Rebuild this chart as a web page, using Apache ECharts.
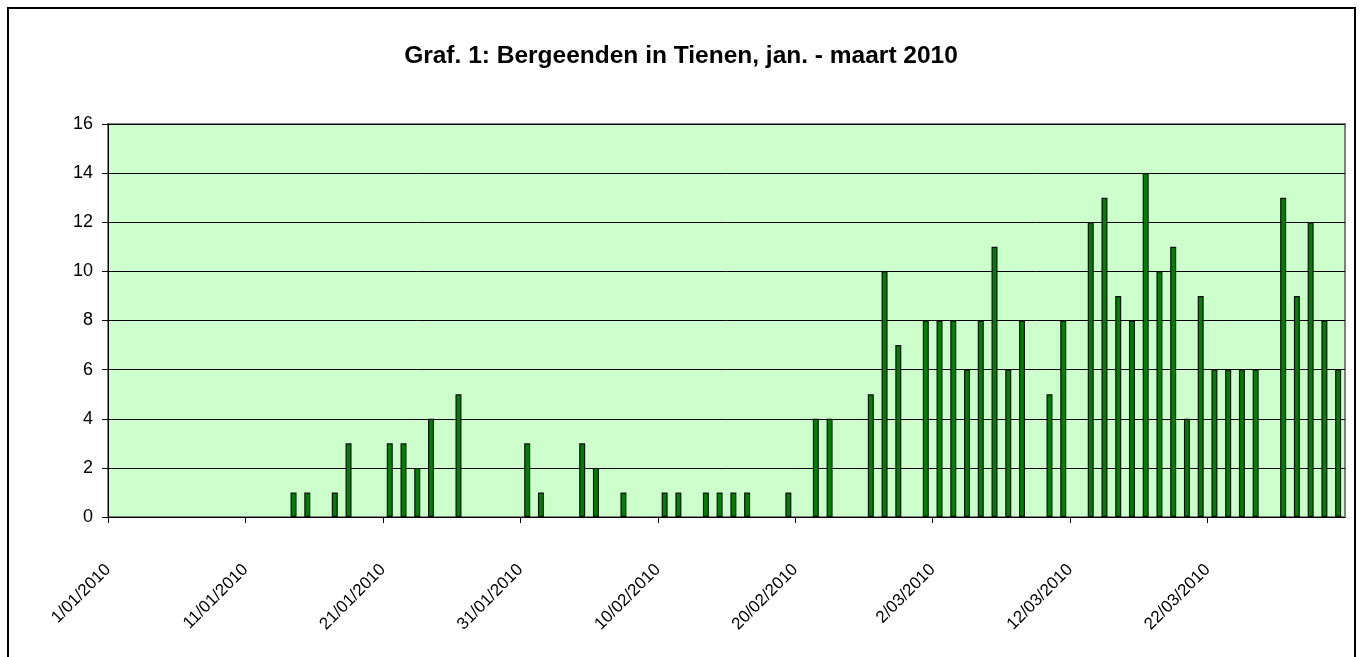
<!DOCTYPE html>
<html>
<head>
<meta charset="utf-8">
<title>Bergeenden in Tienen</title>
<script src="https://cdn.jsdelivr.net/npm/echarts@6/dist/echarts.min.js"></script>
<style>
  html, body { margin: 0; padding: 0; background: #fff; }
  #chart { width: 1362px; height: 657px; }
</style>
</head>
<body>
<div id="chart"></div>
<script>
// aantal bergeenden per dag (1 jan - 31 maart 2010)
const janCounts = [0, 0, 0, 0, 0, 0, 0, 0, 0, 0, 0, 0, 0, 1, 1, 0, 1, 3, 0, 0, 3, 3, 2, 4, 0, 5, 0, 0, 0, 0, 3]
const febCounts = [1, 0, 0, 3, 2, 0, 1, 0, 0, 1, 1, 0, 1, 1, 1, 1, 0, 0, 1, 0, 4, 4, 0, 0, 5, 10, 7, 0]
const marCounts = [8, 8, 8, 6, 8, 11, 6, 8, 0, 5, 8, 0, 12, 13, 9, 8, 14, 10, 11, 4, 9, 6, 6, 6, 6, 0, 13, 9, 12, 8, 6]

// labels onder de x-as (om de 10 dagen)
const tickLabels = ['1/01/2010', '11/01/2010', '21/01/2010', '31/01/2010', '10/02/2010',
  '20/02/2010', '2/03/2010', '12/03/2010', '22/03/2010']
const yTicks = [0, 2, 4, 6, 8, 10, 12, 14, 16]

const title = 'Graf. 1: Bergeenden in Tienen, jan. - maart 2010'

// categorieen: elke dag
const months = [['01', janCounts], ['02', febCounts], ['03', marCounts]]
const categories = []
const counts = []
for (const [m, arr] of months) {
  arr.forEach((v, i) => {
    categories.push((i + 1) + '/' + m + '/2010')
    counts.push(v)
  })
}

// balk in het midden van de dag
const barData = []
categories.forEach((d, i) => {
  if (counts[i] > 0) barData.push({ name: d, value: [i + 0.5, counts[i]] })
})

const chart = echarts.init(document.getElementById('chart'))
chart.setOption({
  animation: false,
  title: {
    text: title,
    left: 'center',
    top: 39,
    textStyle: {
      fontFamily: 'Liberation Sans',
      fontSize: 24.5,
      fontWeight: 'bold',
      color: '#000'
    }
  },
  graphic: [{
    type: 'rect',
    shape: { x: 8, y: 8, width: 1347, height: 700 },
    style: { fill: 'none', stroke: '#000', lineWidth: 2 },
    silent: true
  }],
  grid: {
    left: 108,
    right: 17,
    top: 124,
    bottom: 140,
    show: true,
    backgroundColor: '#CCFFCC',
    borderColor: '#808080',
    borderWidth: 2
  },
  xAxis: {
    type: 'value',
    min: 0,
    max: categories.length,
    interval: 10,
    axisLine: { show: true, lineStyle: { color: '#000', width: 1 } },
    axisTick: { show: true, length: 6, lineStyle: { color: '#000' } },
    splitLine: { show: false },
    axisLabel: {
      rotate: 45,
      margin: 50,
      fontFamily: 'Liberation Sans',
      fontSize: 17,
      color: '#000',
      showMaxLabel: false,
      formatter: v => tickLabels[Math.round(v / 10)] || ''
    }
  },
  yAxis: {
    type: 'value',
    min: yTicks[0],
    max: yTicks[yTicks.length - 1],
    interval: 2,
    axisLine: { show: true, lineStyle: { color: '#000', width: 1 } },
    axisTick: { show: true, length: 6, lineStyle: { color: '#000' } },
    splitLine: { show: true, lineStyle: { color: '#000', width: 1 } },
    axisLabel: {
      margin: 15,
      fontFamily: 'Liberation Sans',
      fontSize: 18,
      color: '#000'
    }
  },
  series: [{
    type: 'bar',
    data: barData,
    barWidth: 6,
    itemStyle: {
      color: '#008000',
      borderColor: '#111',
      borderWidth: 1.2
    }
  }]
})
</script>
</body>
</html>
